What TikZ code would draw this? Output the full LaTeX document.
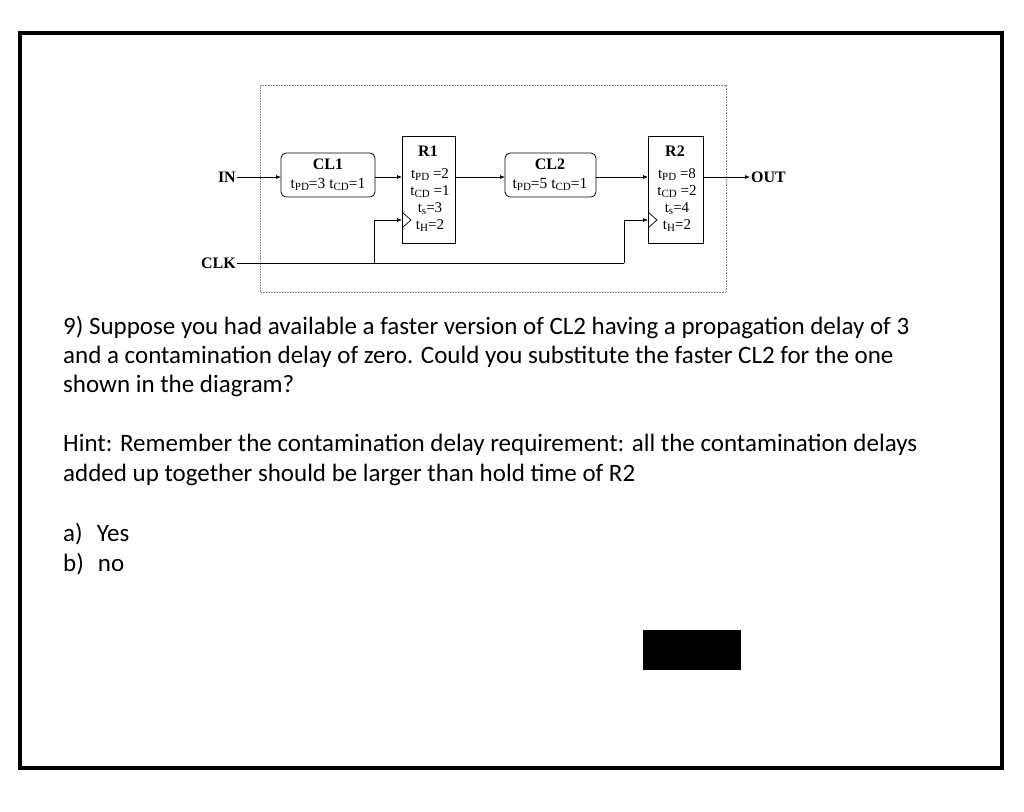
\documentclass[tikz,border=0pt]{standalone}
\usepackage{fontspec}
\setmainfont{Carlito}
\newfontfamily\serifb{Liberation Serif}
\usetikzlibrary{arrows.meta}
\newcommand{\sbs}[1]{\raisebox{-2pt}{\fontsize{11}{11}\selectfont #1}}
\begin{document}
\begin{tikzpicture}[x=1pt,y=-1pt,
  blk/.style={draw,line width=0.8pt},
  wire/.style={line width=0.7pt},
  arr/.style={wire,-{Latex[length=5pt,width=4pt]}},
  lbl/.style={font=\serifb\fontsize{15.5}{16}\selectfont,inner sep=0pt},
  hd/.style={font=\serifb\bfseries\fontsize{16}{16}\selectfont,inner sep=1pt},
  txt/.style={anchor=base west,font=\fontsize{25}{27}\selectfont,inner sep=0pt}]
\useasboundingbox (0,0) rectangle (1024,811);
\draw[line width=3.5pt] (20,33) rectangle (1002,768);
\draw[densely dotted,line width=0.6pt,gray] (260,85) rectangle (726,292);
% blocks
\draw[blk,rounded corners=5pt] (281,153) rectangle (375,197);
\node[hd] (cl1t) at (328,164) {CL1};
\node[lbl] (cl1v) at (328,184) {t\sbs{PD}=3\ t\sbs{CD}=1};
\draw[blk] (402,136) rectangle (455,243);
\node[hd] (r1t) at (428,151) {R1};
\node[lbl,align=center,font=\serifb\fontsize{15}{17}\selectfont] (r1v) at (430,200) {t\sbs{PD} =2\\t\sbs{CD} =1\\t\sbs{s}=3\\t\sbs{H}=2};
\draw[blk,rounded corners=5pt] (505,153) rectangle (596,197);
\node[hd] (cl2t) at (550,164) {CL2};
\node[lbl] (cl2v) at (550,184) {t\sbs{PD}=5\ t\sbs{CD}=1};
\draw[blk] (648,136) rectangle (703,243);
\node[hd] (r2t) at (675,151) {R2};
\node[lbl,align=center,font=\serifb\fontsize{15}{17}\selectfont] (r2v) at (677,200) {t\sbs{PD} =8\\t\sbs{CD} =2\\t\sbs{s}=4\\t\sbs{H}=2};
% clock triangles
\draw[wire] (402,212) -- (411,220) -- (402,228);
\draw[wire] (648,212) -- (657,220) -- (648,228);
% wires
\node[hd,anchor=east] (in) at (237,177) {IN};
\node[hd,anchor=west] (out) at (750,177) {OUT};
\node[hd,anchor=east] (clk) at (237,263) {CLK};
\draw[arr] (in.east) -- (281,177);
\draw[arr] (375,177) -- (402,177);
\draw[arr] (455,177) -- (505,177);
\draw[arr] (596,177) -- (648,177);
\draw[arr] (703,177) -- (out.west);
\draw[wire] (clk.east) -- (624,263);
\draw[arr] (374,263) -- (374,220) -- (402,220);
\draw[arr] (624,263) -- (624,220) -- (648,220);
% text
\node[txt] (q1) at (63,334) {9) Suppose you had available a faster version of CL2 having a propagation delay of 3};
\node[txt] (q2) at (63,363) {and a contamination delay of zero. Could you substitute the faster CL2 for the one};
\node[txt] (q3) at (63,392) {shown in the diagram?};
\node[txt] (h1) at (63,451) {Hint: Remember the contamination delay requirement: all the contamination delays};
\node[txt] (h2) at (63,481) {added up together should be larger than hold time of R2};
\node[txt] (a) at (63,541) {a)\hspace{14pt}Yes};
\node[txt] (b) at (63,571) {b)\hspace{14pt}no};
\fill (643,630) rectangle (741,670);
\end{tikzpicture}
\end{document}
